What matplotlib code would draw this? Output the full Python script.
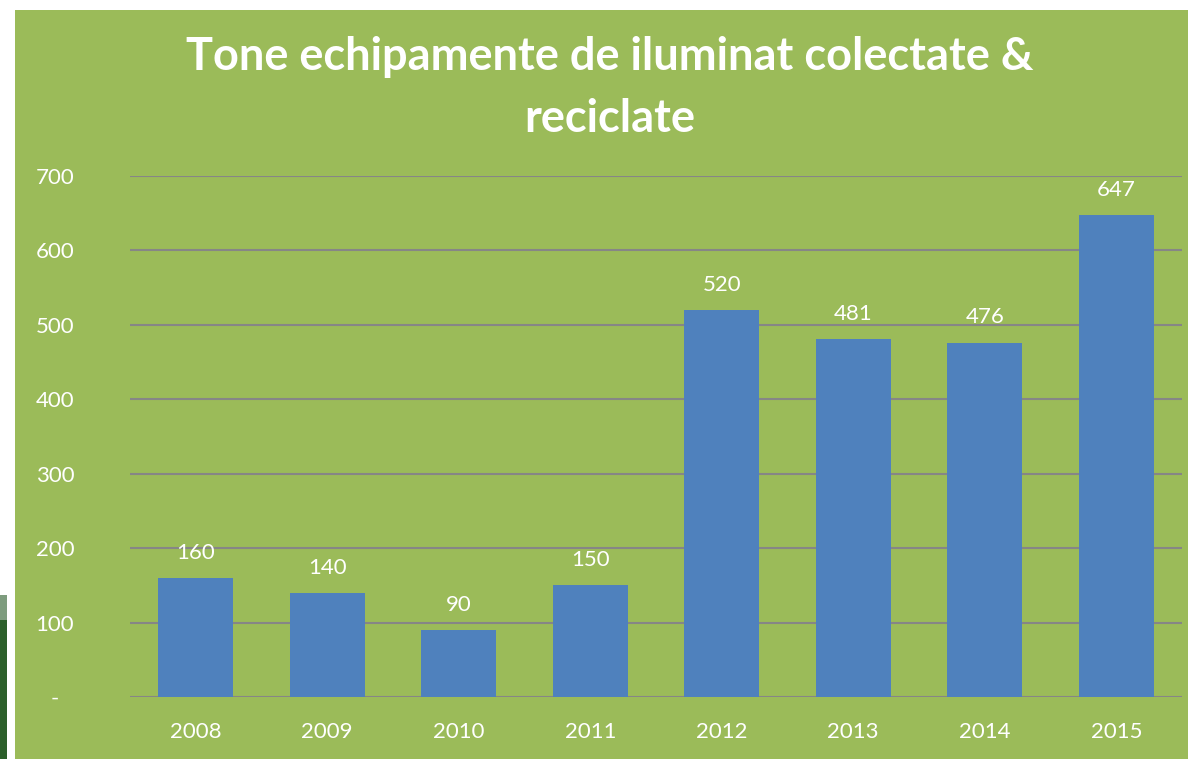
import matplotlib
matplotlib.use("Agg")
import matplotlib.pyplot as plt
from matplotlib.patches import Rectangle

years = ["2008", "2009", "2010", "2011", "2012", "2013", "2014", "2015"]
tonnes = [160, 140, 90, 150, 520, 481, 476, 647]
yticks = [0, 100, 200, 300, 400, 500, 600, 700]
ytick_labels = ["-", "100", "200", "300", "400", "500", "600", "700"]
title = "Tone echipamente de iluminat colectate &\nreciclate"

GREEN = "#9BBB59"
BLUE = "#4F81BD"
GRID = "#868686"
FONT = ["Lato", "DejaVu Sans"]

W, H = 1188, 759
fig = plt.figure(figsize=(W / 100, H / 100), dpi=100)
fig.patch.set_facecolor("white")

# green chart background
fig.add_artist(Rectangle((15 / W, 0), 1 - 15 / W, 1 - 10 / H, transform=fig.transFigure,
                         facecolor=GREEN, edgecolor="none", zorder=0))
# dark strip at left edge (background photo)
fig.add_artist(Rectangle((0, 0), 7 / W, (759 - 600) / H, transform=fig.transFigure,
                         facecolor="#2C5F2A", edgecolor="none", zorder=0))
fig.add_artist(Rectangle((0, (759 - 620) / H), 7 / W, 25 / H, transform=fig.transFigure,
                         facecolor="#7E9C7E", edgecolor="none", zorder=0))

left, right = 130 / W, 1182 / W
bottom, top = 1 - 697 / H, 1 - 176 / H
ax = fig.add_axes([left, bottom, right - left, top - bottom])
ax.set_facecolor("none")

x = list(range(len(years)))
bars = ax.bar(x, tonnes, width=0.57, color=BLUE, zorder=3)
ax.set_xlim(-0.5, len(years) - 0.5)
ax.set_ylim(0, 700)

for xi, v in zip(x, tonnes):
    ax.annotate(str(v), (xi, v), xytext=(0, 11), textcoords="offset points",
                ha="center", va="bottom", color="white", fontsize=16, family=FONT)

ax.set_yticks(yticks)
ax.set_yticklabels(ytick_labels)
ax.set_xticks(x)
ax.set_xticklabels(years)
ax.tick_params(axis="y", length=0, pad=54, labelsize=16, labelcolor="white")
ax.tick_params(axis="x", length=0, pad=18, labelsize=16, labelcolor="white")
for lab in ax.get_yticklabels():
    lab.set_horizontalalignment("center")
    lab.set_family(FONT)
for lab in ax.get_xticklabels():
    lab.set_family(FONT)

ax.grid(axis="y", color=GRID, linewidth=1.5, zorder=1)
for s in ax.spines.values():
    s.set_visible(False)

fig.text(610 / W, 1 - 88 / H, title, ha="center", va="center", color="white",
         fontsize=32.5, fontweight="bold", family=FONT, linespacing=1.6)

fig.savefig("out.png", dpi=100, facecolor=fig.get_facecolor())
